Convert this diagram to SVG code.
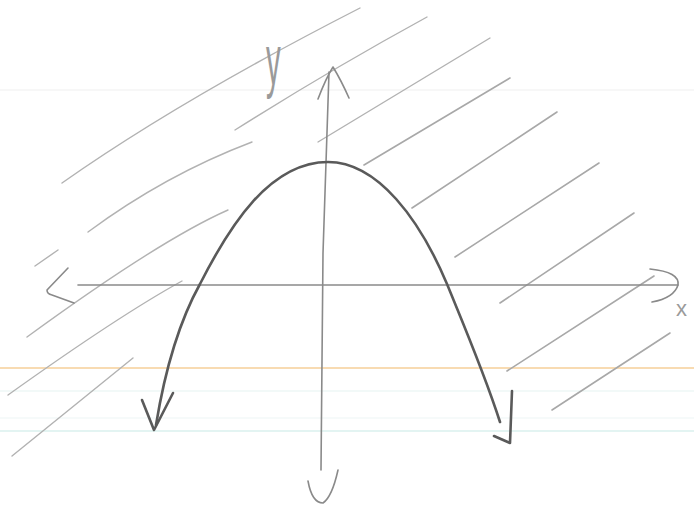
<svg xmlns="http://www.w3.org/2000/svg" width="694" height="506" viewBox="0 0 694 506">
<style>
.rule{fill:none;stroke-width:1.5}
.hatch{fill:none;stroke:#b2b2b2;stroke-width:1.4;stroke-linecap:round}
.hatchR{fill:none;stroke:#a8a8a8;stroke-width:1.6;stroke-linecap:round}
.axis{fill:none;stroke:#8a8a8a;stroke-width:1.6;stroke-linecap:round;stroke-linejoin:round}
.curve{fill:none;stroke:#5a5a5a;stroke-width:2.6;stroke-linecap:round;stroke-linejoin:round}
.lbl{font-family:"Liberation Sans",Arial,sans-serif;fill:#9a9a9a}
</style>
<rect width="694" height="506" fill="#ffffff"/>
<g id="paper">
<line class="rule" x1="0" y1="90" x2="694" y2="90" stroke="#f4f4f4"/>
<line class="rule" x1="0" y1="368" x2="694" y2="368" stroke="#f6cf98"/>
<line class="rule" x1="0" y1="391" x2="694" y2="391" stroke="#eef7f6"/>
<line class="rule" x1="0" y1="418" x2="694" y2="418" stroke="#f3f8f8"/>
<line class="rule" x1="0" y1="431" x2="694" y2="431" stroke="#daf1ee"/>
</g>
<g id="hatching">
<path class="hatch" d="M62,183 Q180,100 360,8"/>
<path class="hatch" d="M235,130 Q330,70 427,17"/>
<path class="hatch" d="M318,142 L490,38"/>
<path class="hatch" d="M88,232 Q165,175 252,142"/>
<path class="hatch" d="M228,210 Q160,240 27,337"/>
<path class="hatch" d="M182,281 Q120,315 8,395"/>
<path class="hatch" d="M133,358 L12,456"/>
<path class="hatch" d="M35,266 L58,250" stroke="#d0d0d0"/>
<path class="hatchR" d="M364,165 L510,78"/>
<path class="hatchR" d="M412,208 L557,112"/>
<path class="hatchR" d="M455,257 L599,163"/>
<path class="hatchR" d="M500,303 L634,213"/>
<path class="hatchR" d="M507,371 L654,276"/>
<path class="hatchR" d="M552,410 L670,333"/>
</g>
<g id="axes">
<path class="axis" d="M78,285 L678,285"/>
<path class="axis" d="M68,268 L47,290 Q47,294 52,295 L74,303"/>
<path class="axis" d="M650,269 Q680,272 678,285 Q674,298 652,302"/>
<path class="axis" d="M329,72 L323,253 L321,470"/>
<path class="axis" d="M318,99 Q326,78 333,67 Q341,80 349,98"/>
<path class="axis" d="M308,481 Q312,503 323,503 Q332,497 338,470"/>
</g>
<g id="parabola">
<path class="curve" d="M156,425 C165,370 180,320 200,284 C230,225 270,162 328,162 C378,162 420,220 447,284 C465,328 485,375 500,422"/>
<path class="curve" d="M142,400 L154,430 L173,393"/>
<path class="curve" d="M494,436 L510,443 L512,391"/>
</g>
<g id="labels">
<text class="lbl" x="0" y="0" font-size="70" transform="translate(266,84) scale(0.42,1)">y</text>
<text class="lbl" x="676" y="316" font-size="22">x</text>
</g>
</svg>
